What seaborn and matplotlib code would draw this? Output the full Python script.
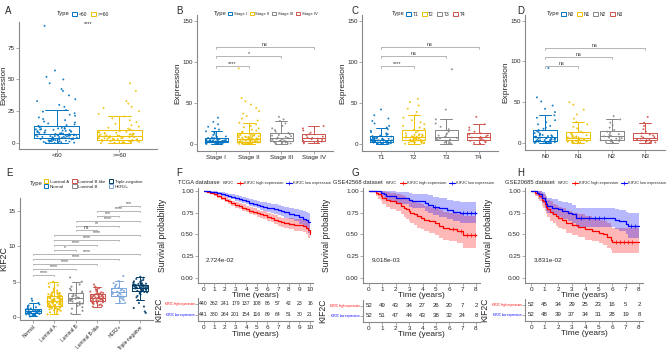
import numpy as np
import pandas as pd
import matplotlib
matplotlib.use('Agg')
import matplotlib.pyplot as plt
import seaborn as sns
from matplotlib.patches import Patch
from matplotlib.lines import Line2D

sns.set_style('white')
plt.rcParams['font.family'] = ['Liberation Sans', 'DejaVu Sans']

JCO = ['#0073C2', '#EFC000', '#868686', '#CD534C', '#7AA6DC', '#003C67']
W, H = 669, 351

# ---------------- data: expression by group ----------------
age_groups = ['<60', '>=60']
age_lt60 = [0.2, 0.4, 0.5, 0.7, 0.9, 1.0, 1.2, 1.3, 1.5, 1.6, 1.8, 2.0, 2.1, 2.3, 2.4, 2.6, 2.7, 2.9, 3.0,
            3.1, 3.2, 3.3, 3.4, 3.5, 3.6, 3.8, 3.9, 4.1, 4.2, 4.4, 4.5, 4.7, 4.8, 5.0, 5.1, 5.3, 5.4, 5.6,
            5.7, 5.9, 6.0, 6.1, 6.2, 6.3, 6.4, 6.5, 6.6, 6.7, 6.8, 6.9, 7.1, 7.3, 7.5, 7.7, 7.9, 8.1, 8.3,
            8.5, 8.7, 8.9, 9.1, 9.3, 9.5, 9.7, 9.9, 10.1, 10.3, 10.5, 10.7, 10.9, 11.1, 11.4, 11.6, 11.9,
            12.1, 12.5, 13.0, 13.6, 14.2, 14.8, 15.5, 16.3, 17.0, 18.1, 19.0, 20.2, 21.5, 22.4, 23.5, 24.8,
            26.0, 28.5, 30.1, 33.0, 34.5, 37.5, 41.0, 42.5, 47.0, 50.0, 52.0, 57.0, 92.0]
age_ge60 = [0.1, 0.3, 0.5, 0.6, 0.8, 1.0, 1.1, 1.3, 1.4, 1.6, 1.7, 1.9, 2.0, 2.2, 2.3, 2.5, 2.6, 2.8, 3.0,
            3.1, 3.3, 3.5, 3.6, 3.8, 4.0, 4.1, 4.3, 4.5, 4.6, 4.8, 5.0, 5.2, 5.4, 5.6, 5.8, 5.9, 6.1, 6.3,
            6.5, 6.7, 6.9, 7.1, 7.3, 7.5, 7.7, 7.9, 8.1, 8.4, 8.7, 9.0, 9.5, 10.1, 10.8, 11.5, 12.2, 13.0,
            14.1, 15.3, 16.5, 18.0, 19.6, 21.0, 23.0, 25.0, 27.5, 28.5, 31.0, 33.0, 41.0, 47.0]

stage_groups = ['Stage I', 'Stage II', 'Stage III', 'Stage IV']
stage_1 = [0.2, 0.3, 0.4, 0.6, 0.8, 0.9, 1.0, 1.2, 1.3, 1.4, 1.5, 1.6, 1.8, 2.0, 2.1, 2.2, 2.5, 2.7, 2.9,
           3.0, 3.1, 3.3, 3.5, 3.6, 3.7, 3.9, 4.0, 4.1, 4.3, 4.4, 4.5, 4.8, 5.0, 5.2, 5.5, 5.7, 6.0, 6.2,
           6.5, 6.8, 7.0, 7.4, 7.9, 8.5, 9.2, 10.0, 11.0, 12.5, 14.0, 15.5, 17.5, 19.0, 21.0, 24.0, 27.0, 32.0]
stage_2 = [0.1, 0.2, 0.3, 0.5, 0.6, 0.7, 0.9, 1.0, 1.1, 1.3, 1.4, 1.5, 1.7, 1.8, 1.9, 2.1, 2.2, 2.4, 2.6,
           2.7, 3.0, 3.2, 3.3, 3.6, 3.8, 3.9, 4.2, 4.4, 4.5, 4.8, 5.0, 5.1, 5.4, 5.6, 5.7, 6.0, 6.2, 6.3,
           6.6, 6.8, 7.0, 7.4, 7.6, 7.8, 8.2, 8.4, 8.6, 9.0, 9.2, 9.5, 10.0, 10.2, 10.5, 11.0, 11.3, 11.6,
           12.3, 12.6, 13.0, 14.0, 15.0, 16.2, 17.5, 19.0, 20.5, 22.0, 24.0, 26.0, 28.5, 31.0, 34.0, 37.0,
           40.0, 44.0, 48.0, 52.0, 56.0, 92.0]
stage_3 = [0.3, 0.7, 1.0, 1.4, 1.7, 2.0, 2.4, 2.8, 3.2, 3.6, 4.0, 4.4, 4.9, 5.3, 5.8, 6.3, 6.8, 7.4, 8.0,
           8.8, 9.5, 10.2, 11.0, 12.0, 13.5, 15.0, 17.0, 19.0, 22.0, 25.0, 28.0, 30.0, 33.0]
stage_4 = [0.8, 1.5, 2.2, 3.0, 3.8, 4.5, 5.2, 5.9, 6.5, 7.3, 8.0, 9.0, 10.5, 12.0, 14.0, 16.5, 19.0, 22.0]

t_groups = ['T1', 'T2', 'T3', 'T4']
t_1 = [0.2, 0.4, 0.5, 0.7, 0.9, 1.0, 1.2, 1.4, 1.5, 1.7, 1.9, 2.0, 2.2, 2.5, 2.6, 2.8, 3.1, 3.2, 3.4, 3.7,
       3.9, 4.0, 4.3, 4.5, 4.6, 5.0, 5.3, 5.5, 5.6, 6.0, 6.3, 6.5, 6.7, 7.1, 7.5, 7.8, 8.0, 8.5, 9.0, 9.6,
       10.3, 11.0, 12.0, 13.0, 14.5, 16.0, 18.0, 20.0, 22.0, 25.0, 28.0, 31.0, 35.0, 42.0]
t_2 = [0.3, 0.8, 1.0, 1.3, 1.8, 2.0, 2.3, 2.7, 3.0, 3.2, 3.4, 3.8, 4.2, 4.4, 4.6, 5.0, 5.4, 5.6, 5.8, 6.2,
       6.6, 6.8, 7.0, 7.4, 7.8, 8.0, 8.3, 8.8, 9.0, 9.3, 9.9, 10.0, 10.5, 11.2, 11.5, 12.0, 13.0, 14.0,
       15.5, 17.0, 18.5, 20.0, 22.0, 24.0, 26.5, 29.0, 32.0, 35.0, 39.0, 43.0, 47.0, 51.0, 55.0]
t_3 = [0.4, 1.0, 1.8, 2.5, 3.3, 4.0, 4.8, 5.5, 6.2, 6.8, 7.5, 8.3, 9.2, 10.3, 11.5, 13.0, 15.0, 18.0, 21.0,
       25.0, 30.0, 42.0, 91.0]
t_4 = [0.5, 1.3, 2.2, 3.0, 3.8, 4.6, 5.4, 6.2, 7.0, 7.8, 8.6, 9.5, 10.5, 11.7, 13.0, 15.0, 17.0, 20.0, 24.0, 33.0]

n_groups = ['N0', 'N1', 'N2', 'N3']
n_0 = [0.1, 0.4, 0.5, 0.7, 1.0, 1.1, 1.3, 1.6, 1.7, 1.9, 2.2, 2.4, 2.5, 2.9, 3.1, 3.3, 3.7, 3.9, 4.1, 4.5,
       4.7, 4.9, 5.3, 5.5, 5.7, 6.1, 6.3, 6.5, 7.0, 7.2, 7.5, 8.0, 8.3, 8.6, 9.2, 9.5, 9.9, 10.6, 11.4,
       12.3, 13.3, 14.5, 16.0, 17.5, 19.0, 21.0, 23.0, 25.5, 28.0, 31.0, 34.0, 38.0, 42.0, 46.0, 51.0,
       56.0, 92.0]
n_1 = [0.2, 0.6, 0.8, 1.0, 1.5, 1.8, 2.0, 2.5, 2.8, 3.0, 3.5, 3.8, 4.0, 4.5, 4.8, 5.0, 5.5, 5.8, 6.0, 6.5,
       6.8, 7.0, 7.6, 8.0, 8.2, 8.9, 9.7, 10.5, 11.5, 12.8, 14.0, 16.0, 18.0, 20.0, 23.0, 26.0, 30.0,
       35.0, 41.0, 47.0, 50.0]
n_2 = [0.4, 1.1, 1.9, 2.6, 3.3, 4.0, 4.7, 5.3, 6.0, 6.7, 7.4, 8.2, 9.0, 10.0, 11.0, 12.5, 14.0, 16.0, 19.0,
       22.0, 25.0, 29.0, 33.0]
n_3 = [0.3, 0.8, 1.4, 2.0, 2.6, 3.2, 3.8, 4.5, 5.1, 5.8, 6.5, 7.3, 8.2, 9.3, 10.5, 12.0, 14.0, 17.0, 21.0,
       25.0, 32.0]

sub_groups = ['Normal', 'Luminal A', 'Luminal B', 'Luminal B-like', 'HER2+', 'Triple-negative']
sub_normal = [0.10, 0.18, 0.25, 0.30, 0.35, 0.40, 0.43, 0.47, 0.50, 0.53, 0.57, 0.60, 0.63, 0.66, 0.70,
              0.73, 0.76, 0.79, 0.82, 0.86, 0.90, 0.94, 0.98, 1.02, 1.07, 1.12, 1.17, 1.22, 1.30, 1.40,
              1.52, 1.65, 1.80, 2.00, 2.30, 2.60]
sub_luma = [0.40, 0.55, 0.68, 0.80, 0.90, 0.95, 1.00, 1.08, 1.10, 1.15, 1.22, 1.25, 1.30, 1.35, 1.36, 1.42,
            1.45, 1.48, 1.54, 1.58, 1.60, 1.66, 1.70, 1.72, 1.78, 1.82, 1.84, 1.90, 1.93, 1.96, 2.02, 2.05,
            2.08, 2.10, 2.14, 2.17, 2.20, 2.26, 2.29, 2.32, 2.38, 2.41, 2.44, 2.50, 2.53, 2.56, 2.60, 2.62,
            2.65, 2.68, 2.74, 2.77, 2.80, 2.86, 2.89, 2.92, 2.98, 3.00, 3.06, 3.10, 3.14, 3.22, 3.25, 3.30,
            3.35, 3.40, 3.45, 3.50, 3.62, 3.75, 3.90, 4.05, 4.25, 4.50, 4.75, 5.00]
sub_lumb = [0.50, 0.90, 1.20, 1.40, 1.60, 1.75, 1.90, 2.00, 2.10, 2.20, 2.30, 2.40, 2.50, 2.55, 2.60, 2.68,
            2.75, 2.82, 2.90, 3.00, 3.10, 3.25, 3.40, 3.60, 3.80, 4.00, 4.30, 4.60, 5.00, 5.60]
sub_lumbl = [1.50, 1.60, 1.70, 1.80, 1.88, 1.95, 2.02, 2.08, 2.10, 2.14, 2.20, 2.26, 2.30, 2.32, 2.38, 2.40,
             2.44, 2.50, 2.55, 2.58, 2.60, 2.65, 2.68, 2.70, 2.75, 2.78, 2.80, 2.85, 2.88, 2.90, 2.95, 2.98,
             3.00, 3.05, 3.10, 3.12, 3.16, 3.22, 3.28, 3.30, 3.35, 3.42, 3.50, 3.60, 3.70, 3.82, 3.95, 4.10,
             4.30, 4.60]
sub_her2 = [2.00, 2.20, 2.40, 2.55, 2.70, 2.80, 2.90, 3.00, 3.10, 3.20, 3.30, 3.38, 3.45, 3.52, 3.60, 3.70,
            3.80, 3.90, 4.00, 4.10, 4.25, 4.40, 4.60, 4.80, 5.10, 5.80]
sub_tn = [0.60, 0.80, 1.30, 1.50, 2.00, 2.40, 2.80, 3.00, 3.20, 3.35, 3.45, 3.50, 3.55, 3.60, 3.65, 3.70,
          3.72, 3.80, 3.86, 3.90, 3.92, 3.98, 4.00, 4.04, 4.05, 4.10, 4.12, 4.15, 4.20, 4.22, 4.25, 4.28,
          4.30, 4.32, 4.35, 4.40, 4.42, 4.45, 4.48, 4.50, 4.52, 4.55, 4.60, 4.62, 4.66, 4.70, 4.72, 4.80,
          4.88, 4.96, 5.05, 5.15, 5.25, 5.40, 5.55, 5.70]

# significance annotations: (group index a, group index b, bracket height, label)
stage_sig = [(0, 1, 95, '****'), (0, 2, 107, '*'), (0, 3, 118, 'ns')]
t_sig = [(0, 1, 95, '****'), (0, 2, 107, 'ns'), (0, 3, 118, 'ns')]
n_sig = [(0, 1, 94, 'ns'), (0, 2, 105, 'ns'), (0, 3, 117, 'ns')]
sub_sig = [(0, 1, 6.0, '****'), (0, 2, 6.8, '****'), (0, 3, 7.5, '****'), (0, 4, 8.2, '****'),
           (0, 5, 8.9, '****'), (1, 2, 9.5, '*'), (1, 3, 10.2, '****'), (1, 4, 10.9, '****'),
           (1, 5, 11.6, '****'), (2, 3, 12.3, 'ns'), (2, 4, 12.9, '**'), (2, 5, 13.6, '****'),
           (3, 4, 14.3, '***'), (3, 5, 15.0, '****'), (4, 5, 15.7, '***')]

# ---------------- data: survival ----------------
F_t = [0, 0.3, 0.6, 1.0, 1.3, 1.6, 2.0, 2.3, 2.6, 3.0, 3.3, 3.6, 4.0, 4.3, 4.6, 5.0, 5.3, 5.6, 6.0, 6.3,
       6.6, 7.0, 7.3, 7.6, 8.0, 8.5, 9.0, 9.3, 9.6, 9.8, 10.0]
F_high = [1.00, 0.99, 0.975, 0.96, 0.94, 0.92, 0.90, 0.88, 0.86, 0.84, 0.825, 0.81, 0.79, 0.775, 0.76,
          0.745, 0.73, 0.72, 0.70, 0.685, 0.67, 0.65, 0.64, 0.63, 0.62, 0.61, 0.605, 0.60, 0.58, 0.55, 0.50]
F_high_lo = [1.00, 0.98, 0.96, 0.94, 0.92, 0.895, 0.87, 0.85, 0.83, 0.81, 0.79, 0.775, 0.755, 0.74, 0.72,
             0.705, 0.69, 0.675, 0.655, 0.64, 0.62, 0.60, 0.585, 0.57, 0.56, 0.545, 0.535, 0.53, 0.50,
             0.46, 0.42]
F_high_hi = [1.00, 1.00, 0.99, 0.98, 0.965, 0.945, 0.925, 0.91, 0.89, 0.875, 0.86, 0.845, 0.83, 0.815,
             0.80, 0.785, 0.775, 0.765, 0.745, 0.73, 0.72, 0.70, 0.695, 0.69, 0.685, 0.68, 0.675, 0.675,
             0.66, 0.645, 0.61]
F_low = [1.00, 0.997, 0.99, 0.985, 0.975, 0.965, 0.955, 0.945, 0.935, 0.92, 0.905, 0.895, 0.88, 0.865,
         0.855, 0.84, 0.83, 0.82, 0.81, 0.80, 0.79, 0.78, 0.77, 0.755, 0.74, 0.72, 0.70, 0.68, 0.665,
         0.645, 0.64]
F_low_lo = [1.00, 0.99, 0.98, 0.97, 0.96, 0.945, 0.935, 0.92, 0.905, 0.89, 0.875, 0.86, 0.845, 0.83,
            0.815, 0.80, 0.785, 0.775, 0.76, 0.75, 0.735, 0.72, 0.71, 0.69, 0.675, 0.65, 0.625, 0.60,
            0.57, 0.52, 0.40]
F_low_hi = [1.00, 1.00, 1.00, 0.995, 0.99, 0.985, 0.975, 0.97, 0.96, 0.95, 0.94, 0.93, 0.915, 0.905,
            0.895, 0.885, 0.875, 0.87, 0.86, 0.85, 0.845, 0.835, 0.83, 0.82, 0.81, 0.795, 0.785, 0.77,
            0.76, 0.75, 0.75]

G_high_t = [0, 0.5, 0.7, 0.9, 1.0, 1.3, 1.6, 2.0, 2.4, 2.6, 2.8, 3.0, 3.1, 3.4, 3.6, 3.9, 4.1, 4.5, 4.9,
            5.2, 5.5, 6.0, 6.6, 7.0, 8.0]
G_high = [1.00, 0.98, 0.96, 0.94, 0.92, 0.90, 0.88, 0.865, 0.83, 0.81, 0.79, 0.77, 0.75, 0.73, 0.71, 0.69,
          0.67, 0.65, 0.63, 0.60, 0.58, 0.56, 0.54, 0.49, 0.49]
G_high_lo = [1.00, 0.94, 0.91, 0.88, 0.85, 0.82, 0.79, 0.77, 0.73, 0.70, 0.68, 0.65, 0.63, 0.61, 0.58,
             0.56, 0.54, 0.52, 0.49, 0.46, 0.44, 0.42, 0.40, 0.35, 0.35]
G_high_hi = [1.00, 1.00, 1.00, 1.00, 1.00, 0.99, 0.98, 0.97, 0.95, 0.94, 0.92, 0.91, 0.89, 0.88, 0.86,
             0.85, 0.83, 0.82, 0.80, 0.78, 0.76, 0.75, 0.73, 0.71, 0.71]
G_low_t = [0, 0.9, 1.1, 1.3, 2.0, 3.0, 3.2, 4.2, 4.4, 4.8, 5.2, 5.8, 6.3, 6.8, 8.0]
G_low = [1.00, 0.98, 0.96, 0.94, 0.92, 0.90, 0.88, 0.86, 0.84, 0.82, 0.80, 0.78, 0.76, 0.745, 0.745]
G_low_lo = [1.00, 0.94, 0.91, 0.88, 0.85, 0.82, 0.80, 0.77, 0.75, 0.72, 0.70, 0.68, 0.65, 0.63, 0.63]
G_low_hi = [1.00, 1.00, 1.00, 1.00, 0.99, 0.98, 0.97, 0.96, 0.95, 0.93, 0.92, 0.90, 0.89, 0.87, 0.87]

H_high_t = [0, 0.3, 0.5, 0.6, 0.8, 0.9, 1.0, 1.1, 1.2, 1.4, 1.6, 1.8, 2.0, 2.3, 2.6, 3.0, 3.5, 4.0, 4.5,
            5.0, 5.3, 5.6, 5.9, 6.0, 8.0]
H_high = [1.00, 0.98, 0.96, 0.94, 0.90, 0.88, 0.85, 0.82, 0.79, 0.76, 0.73, 0.71, 0.69, 0.67, 0.63, 0.61,
          0.59, 0.56, 0.54, 0.52, 0.50, 0.47, 0.44, 0.41, 0.41]
H_high_lo = [1.00, 0.94, 0.91, 0.88, 0.83, 0.80, 0.77, 0.73, 0.70, 0.66, 0.63, 0.60, 0.58, 0.56, 0.52,
             0.49, 0.47, 0.44, 0.42, 0.40, 0.38, 0.35, 0.32, 0.29, 0.29]
H_high_hi = [1.00, 1.00, 1.00, 1.00, 0.98, 0.97, 0.95, 0.93, 0.90, 0.88, 0.85, 0.84, 0.82, 0.80, 0.77,
             0.75, 0.73, 0.71, 0.69, 0.67, 0.65, 0.63, 0.60, 0.57, 0.57]
H_low_t = [0, 0.4, 0.6, 0.8, 1.0, 1.1, 1.2, 1.5, 2.0, 2.3, 2.7, 3.0, 3.3, 5.7, 6.2, 6.5, 7.0, 7.2, 8.0]
H_low = [1.00, 0.98, 0.96, 0.92, 0.88, 0.85, 0.83, 0.81, 0.79, 0.77, 0.75, 0.73, 0.69, 0.69, 0.67, 0.65,
         0.62, 0.595, 0.595]
H_low_lo = [1.00, 0.94, 0.91, 0.86, 0.81, 0.77, 0.75, 0.72, 0.70, 0.68, 0.65, 0.63, 0.59, 0.59, 0.56,
            0.54, 0.50, 0.46, 0.46]
H_low_hi = [1.00, 1.00, 1.00, 0.99, 0.96, 0.94, 0.92, 0.91, 0.89, 0.87, 0.86, 0.84, 0.81, 0.81, 0.79,
            0.78, 0.76, 0.75, 0.75]

G_high_cens = [6.3, 6.9, 7.3, 7.6, 7.9]
G_low_cens = [4.9, 7.0, 7.3, 7.6, 7.9]
H_high_cens = [6.3, 6.6, 6.9, 7.2, 7.5]
H_low_cens = [3.7, 4.3, 4.7, 5.0, 5.4, 7.4, 7.7]

F_risk_high = [440, 362, 241, 179, 137, 108, 86, 57, 42, 23, 16]
F_risk_low = [441, 380, 264, 201, 154, 116, 89, 64, 51, 30, 21]
G_risk_high = [52, 49, 43, 34, 27, 26, 20, 7, 2]
G_risk_low = [52, 51, 47, 44, 43, 38, 32, 24, 8]
H_risk_high = [52, 45, 34, 29, 25, 23, 16, 5, 2]
H_risk_low = [52, 48, 39, 37, 34, 31, 28, 19, 8]

pvals = ['2.724e-02', '9.018e-03', '3.831e-02']
datasets = ['TCGA database', 'GSE42568 dataset', 'GSE20685 dataset']

RED, BLUE = '#FF0000', '#0000FF'
AXC = '#888888'


def rect(l, t, r, b):
    return [l / W, 1 - b / H, (r - l) / W, (b - t) / H]


def style_axes(ax, tick_size=4.5):
    for s in ['top', 'right']:
        ax.spines[s].set_visible(False)
    for s in ['left', 'bottom']:
        ax.spines[s].set_color(AXC)
        ax.spines[s].set_linewidth(0.8)
    ax.tick_params(axis='both', length=2, width=0.5, color=AXC, labelsize=tick_size, pad=1,
                   left=True, bottom=True)


def box_panel(ax, groups, values, colors, ylim, yticks, ylabel, size=1.4):
    df = pd.DataFrame({'Type': np.repeat(groups, [len(v) for v in values]),
                       'Expression': np.concatenate([np.asarray(v, float) for v in values])})
    pal = dict(zip(groups, colors))
    sns.boxplot(data=df, x='Type', y='Expression', hue='Type', order=groups, hue_order=groups,
                palette=pal, fill=False, showfliers=False, width=0.72, linewidth=0.7, legend=False, ax=ax)
    sns.stripplot(data=df, x='Type', y='Expression', hue='Type', order=groups, hue_order=groups,
                  palette=pal, jitter=0.33, size=size, alpha=0.9, linewidth=0, legend=False, ax=ax)
    ax.set_xlim(-0.6, len(groups) - 0.4)
    ax.set_ylim(*ylim)
    ax.set_yticks(yticks)
    ax.set_xlabel('')
    style_axes(ax)
    ax.set_ylabel(ylabel, fontsize=6, labelpad=1)


def brackets(ax, sig, tip, fs=4):
    for a, b, y, lab in sig:
        ax.plot([a, a, b, b], [y - tip, y, y, y - tip], color='#999999', lw=0.5)
        ax.text((a + b) / 2, y, lab, ha='center', va='bottom', fontsize=fs, color='#333333')


def type_legend(groups, colors, x_type, x_leg, y, fs, ncol=None):
    # "Type" title on the left, entries to its right (ggplot style)
    handles = [Patch(facecolor='white', edgecolor=c, linewidth=0.7) for c in colors]
    fig.text(x_type / W, 1 - y / H, 'Type', fontsize=4.2, ha='left', va='center')
    fig.legend(handles, groups, loc='center left', bbox_to_anchor=(x_leg / W, 1 - y / H),
               ncol=ncol or len(groups), frameon=False, fontsize=fs, handlelength=1.0, handleheight=0.8,
               handletextpad=0.35, columnspacing=0.7, borderpad=0, borderaxespad=0, labelspacing=0.2)


fig = plt.figure(figsize=(W / 100, H / 100), dpi=100)
renderer = fig.canvas.get_renderer()

# ---------------- A ----------------
axA = fig.add_axes(rect(19, 22, 157, 149))
box_panel(axA, age_groups, [age_lt60, age_ge60], JCO[:2], (-4.5, 95), [0, 25, 50, 75], 'Expression')
axA.set_ylabel('Expression', fontsize=5.8)
axA.yaxis.set_label_coords(-0.083, 0.5)
axA.text(0.5, 93.5, '****', ha='center', va='center', fontsize=4)
type_legend(age_groups, JCO[:2], 57, 72, 14, 3.6)

# ---------------- B ----------------
axB = fig.add_axes(rect(197, 15, 333, 151))
box_panel(axB, stage_groups, [stage_1, stage_2, stage_3, stage_4], JCO[:4],
          (-8.5, 157), [0, 50, 100, 150], 'Expression')
brackets(axB, stage_sig, 2.5)
type_legend(stage_groups, JCO[:4], 214, 228, 14, 3.0)

# ---------------- C ----------------
axC = fig.add_axes(rect(362, 15, 498, 151))
box_panel(axC, t_groups, [t_1, t_2, t_3, t_4], JCO[:4], (-8.5, 157), [0, 50, 100, 150], 'Expression')
brackets(axC, t_sig, 2.5)
type_legend(t_groups, JCO[:4], 392, 406, 14, 3.5)

# ---------------- D ----------------
axD = fig.add_axes(rect(525, 15, 665, 150))
box_panel(axD, n_groups, [n_0, n_1, n_2, n_3], JCO[:4], (-8.5, 157), [0, 50, 100, 150], 'Expression')
brackets(axD, n_sig, 2.5)
type_legend(n_groups, JCO[:4], 547, 561, 14, 3.5)

# ---------------- E ----------------
axE = fig.add_axes(rect(20, 198, 153, 320))
box_panel(axE, sub_groups, [sub_normal, sub_luma, sub_lumb, sub_lumbl, sub_her2, sub_tn], JCO,
          (-0.4, 16.8), [0, 5, 10, 15], 'KIF2C', size=1.5)
axE.set_ylabel('KIF2C', fontsize=6.3)
axE.yaxis.set_label_coords(-0.085, 0.5)
brackets(axE, sub_sig, 0.15, fs=3.6)
plt.setp(axE.get_xticklabels(), rotation=45, ha='right', rotation_mode='anchor', fontsize=3.5)
leg_order = [1, 0, 3, 2, 5, 4]
type_legend([sub_groups[i] for i in leg_order], [JCO[i] for i in leg_order], 30, 44, 184, 3.2, ncol=3)

# ---------------- survival panels ----------------
surv_panels = [
    dict(main=(198, 188, 313, 283), risk=(198, 298, 313, 321), xmax=10, xlim=(-0.52, 10.28), nfs=3.7,
         high=(F_t, F_high, F_high_lo, F_high_hi, []), low=(F_t, F_low, F_low_lo, F_low_hi, []),
         risk_high=F_risk_high, risk_low=F_risk_low, title_x=178),
    dict(main=(363, 188, 480, 283), risk=(363, 300, 480, 322), xmax=8, xlim=(-0.45, 8.3), nfs=4.4,
         high=(G_high_t, G_high, G_high_lo, G_high_hi, G_high_cens),
         low=(G_low_t, G_low, G_low_lo, G_low_hi, G_low_cens),
         risk_high=G_risk_high, risk_low=G_risk_low, title_x=333),
    dict(main=(525, 188, 643, 283), risk=(525, 299, 643, 321), xmax=8, xlim=(-0.47, 8.3), nfs=4.4,
         high=(H_high_t, H_high, H_high_lo, H_high_hi, H_high_cens),
         low=(H_low_t, H_low, H_low_lo, H_low_hi, H_low_cens),
         risk_high=H_risk_high, risk_low=H_risk_low, title_x=505),
]

for i, p in enumerate(surv_panels):
    ax = fig.add_axes(rect(*p['main']))
    for (t, s, lo, hi, cens), col in [(p['high'], RED), (p['low'], BLUE)]:
        ax.fill_between(t, lo, hi, step='post', color=col, alpha=0.28, lw=0)
        sns.lineplot(x=t, y=s, drawstyle='steps-post', color=col, lw=0.9, ax=ax)
        if cens:
            idx = np.searchsorted(t, cens, side='right') - 1
            ax.plot(cens, np.asarray(s)[idx], '+', color=col, ms=2.2, mew=0.5)
    ax.set_xlim(*p['xlim'])
    ax.set_ylim(-0.057, 1.034)
    ax.set_xticks(range(p['xmax'] + 1))
    ax.set_yticks([0, 0.25, 0.5, 0.75, 1.0])
    ax.set_yticklabels(['0.00', '0.25', '0.50', '0.75', '1.00'])
    style_axes(ax, tick_size=4.6)
    ax.set_xlabel('Time (years)', fontsize=6.0)
    ax.xaxis.set_label_coords(0.5, -0.095)
    ax.set_ylabel('Survival probability', fontsize=6.2)
    ax.yaxis.set_label_coords(-0.27, 0.5)
    ax.text(0.2, 0.2, pvals[i], fontsize=4.6, ha='left', va='center')

    axr = fig.add_axes(rect(*p['risk']))
    for k in range(p['xmax'] + 1):
        axr.text(k, 0.74, str(p['risk_high'][k]), ha='center', va='center', fontsize=p['nfs'])
        axr.text(k, 0.28, str(p['risk_low'][k]), ha='center', va='center', fontsize=p['nfs'])
    axr.set_xlim(*p['xlim'])
    axr.set_ylim(0, 1)
    axr.set_xticks(range(p['xmax'] + 1))
    axr.set_yticks([0.74, 0.28])
    axr.set_yticklabels(['KIF2C high expression', 'KIF2C low expression'])
    style_axes(axr, tick_size=4.6)
    axr.tick_params(axis='y', labelsize=2.1, pad=0.5)
    axr.get_yticklabels()[0].set_color(RED)
    axr.get_yticklabels()[1].set_color(BLUE)
    axr.set_xlabel('Time (years)', fontsize=6.0)
    axr.xaxis.set_label_coords(0.5, -0.42)
    axr.set_ylabel('KIF2C', fontsize=6.2)
    axr.yaxis.set_label_coords(-0.305, 0.5)

    # title + strata legend on one line above the curve
    tt = fig.text(p['title_x'] / W, 1 - 183 / H, datasets[i], fontsize=4.2, ha='left', va='center')
    x_kif = tt.get_window_extent(renderer).x1 + 3
    kt = fig.text(x_kif / W, 1 - 183 / H, 'KIF2C', fontsize=2.8, ha='left', va='center')
    x_leg = kt.get_window_extent(renderer).x1 + 3
    hs = [Line2D([], [], color=RED, lw=0.8, marker='+', ms=2.2, mew=0.5),
          Line2D([], [], color=BLUE, lw=0.8, marker='+', ms=2.2, mew=0.5)]
    fig.legend(hs, ['KIF2C high expression', 'KIF2C low expression'], loc='center left',
               bbox_to_anchor=(x_leg / W, 1 - 183 / H), ncol=2, frameon=False, fontsize=2.8,
               handlelength=1.5, handletextpad=0.3, columnspacing=0.8, borderpad=0, borderaxespad=0)

# panel letters
for lab, x, y in [('A', 5, 11), ('B', 176, 11), ('C', 352, 11), ('D', 517, 11),
                  ('E', 6, 173), ('F', 176, 173), ('G', 352, 173), ('H', 517, 173)]:
    fig.text(x / W, 1 - y / H, lab, fontsize=7, ha='left', va='center')

fig.savefig('out.png', dpi=100)
